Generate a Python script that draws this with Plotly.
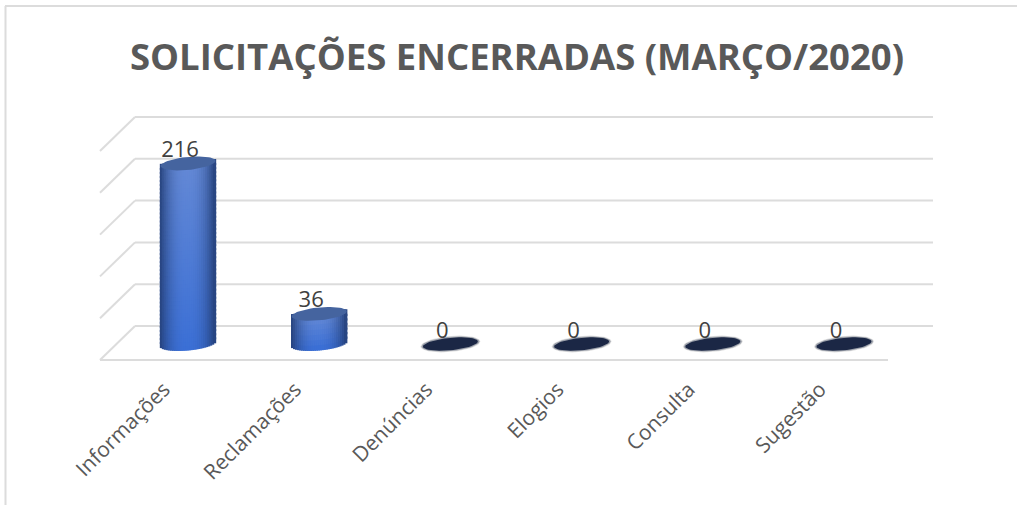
import math
import plotly.graph_objects as go

TITLE = "SOLICITAÇÕES ENCERRADAS (MARÇO/2020)"
categories = ["Informações", "Reclamações", "Denúncias", "Elogios", "Consulta", "Sugestão"]
values = [216, 36, 0, 0, 0, 0]
grid_values = [0, 50, 100, 150, 200, 250]

W, H = 1017, 505
L, R, T, B = 98, 935, 114, 363
X0, XS = 188, 131.2      # px of category 0, px per category
Y0, YS = 344, 0.836      # px of value 0, px per value unit
px2x = lambda p: (p - X0) / XS
py2y = lambda p: (Y0 - p) / YS
dxu = lambda p: p / XS
dyu = lambda p: p / YS

def hexmix(a, b, t):
    return tuple(a[i] + (b[i] - a[i]) * t for i in range(3))

TOPC, BOTC, EDGE = (100, 137, 214), (60, 112, 214), (38, 66, 124)
HW, EB, TILT = 27.5, 6.5, 2.5

fig = go.Figure()

# walls and floor
grid = dict(type="line", xref="x", yref="y", layer="below", line=dict(color="#dcdcdc", width=2))
shapes = []
for v in grid_values:
    yb = v + py2y(326)
    yf = yb - dyu(34)
    shapes.append(dict(grid, x0=px2x(100), y0=yf, x1=px2x(135), y1=yb))
    shapes.append(dict(grid, x0=px2x(135), y0=yb, x1=px2x(933), y1=yb))
shapes.append(dict(grid, x0=px2x(100), y0=py2y(360), x1=px2x(888), y1=py2y(360)))

# cylinder bodies
bx, by, bb, bw, bc = [], [], [], [], []
NC = 28
for i, v in enumerate(values):
    if v <= 0:
        continue
    rows = max(4, int(v * YS / 4))
    for c in range(NC):
        u = (c + 0.5) / NC * 2 - 1
        top = v + dyu(TILT * u)
        bot = -dyu(EB * math.sqrt(1 - u * u)) + dyu(TILT * u)
        h = (top - bot) / rows
        shade = abs(u) ** 2.4
        for r in range(rows):
            t = r / (rows - 1)
            col = hexmix(hexmix(BOTC, TOPC, t), EDGE, shade)
            bx.append(i + dxu(HW * u))
            bb.append(bot + h * r)
            by.append(h * 1.5)
            bw.append(dxu(2 * HW / NC) * 1.7)
            bc.append("rgb(%d,%d,%d)" % col)
fig.add_trace(go.Bar(x=bx, y=by, base=bb, width=bw, marker=dict(color=bc, line=dict(width=0)),
                     hoverinfo="skip", showlegend=False))

# caps
def ellipse(i, v, a, b, tilt):
    xs, ys = [], []
    for k in range(61):
        th = 2 * math.pi * k / 60
        u = math.cos(th)
        xs.append(i + dxu(a * u))
        ys.append(v + dyu(b * math.sin(th) + tilt * u))
    return xs, ys

for i, v in enumerate(values):
    if v > 0:
        xs, ys = ellipse(i, v, HW, EB, TILT)
        fig.add_trace(go.Scatter(x=xs, y=ys, mode="lines", fill="toself", fillcolor="#45649f",
                                 line=dict(width=0), hoverinfo="skip", showlegend=False))
    else:
        for a, b, col in [(30, 8, "rgba(90,90,90,0.18)"), (29, 7.2, "rgba(27,39,69,0.35)"), (27.5, 6.2, "#1b2745")]:
            xs, ys = ellipse(i, v, a, b, TILT)
            fig.add_trace(go.Scatter(x=xs, y=ys, mode="lines", fill="toself", fillcolor=col,
                                     line=dict(width=0), hoverinfo="skip", showlegend=False))

# value labels
fig.add_trace(go.Scatter(
    x=[i - dxu(8) for i in range(len(values))],
    y=[v + dyu(12) for v in values],
    mode="text", text=[str(v) for v in values], textposition="middle center",
    textfont=dict(family="Open Sans", size=22, color="#404040"),
    hoverinfo="skip", showlegend=False, cliponaxis=False))

# frame
frame = dict(type="line", xref="paper", yref="paper", line=dict(color="#dcdcdc", width=2))
pxp = lambda p: (p - L) / (R - L)
pyp = lambda p: (B - p) / (B - T)
shapes += [
    dict(frame, x0=pxp(5.5), x1=pxp(5.5), y0=pyp(6), y1=pyp(505)),
    dict(frame, x0=pxp(5), x1=pxp(1017), y0=pyp(6), y1=pyp(6)),
]

fig.update_layout(
    width=W, height=H, autosize=False,
    margin=dict(l=L, r=W - R, t=T, b=H - B, autoexpand=False),
    paper_bgcolor="white", plot_bgcolor="white",
    barmode="overlay", shapes=shapes, showlegend=False,
    title=dict(text=TITLE, x=517 / W, xanchor="center", y=1 - 57 / H, yanchor="middle",
               font=dict(family="Open Sans", size=36.5, color="#595959", weight="bold")),
    xaxis=dict(range=[px2x(L), px2x(R)], tickmode="array", tickvals=list(range(len(categories))),
               ticktext=categories, tickangle=-45, showgrid=False, zeroline=False, showline=False,
               automargin=False, ticks="", ticklabelstandoff=9, ticklabelshift=-24,
               tickfont=dict(family="Open Sans", size=21, color="#595959")),
    yaxis=dict(range=[py2y(B), py2y(T)], showgrid=False, zeroline=False, showline=False,
               automargin=False, showticklabels=False, ticks=""),
)
fig.write_html("out.html", config={"displayModeBar": False},
               post_script="document.body.style.margin='0';document.body.style.overflow='hidden';")
